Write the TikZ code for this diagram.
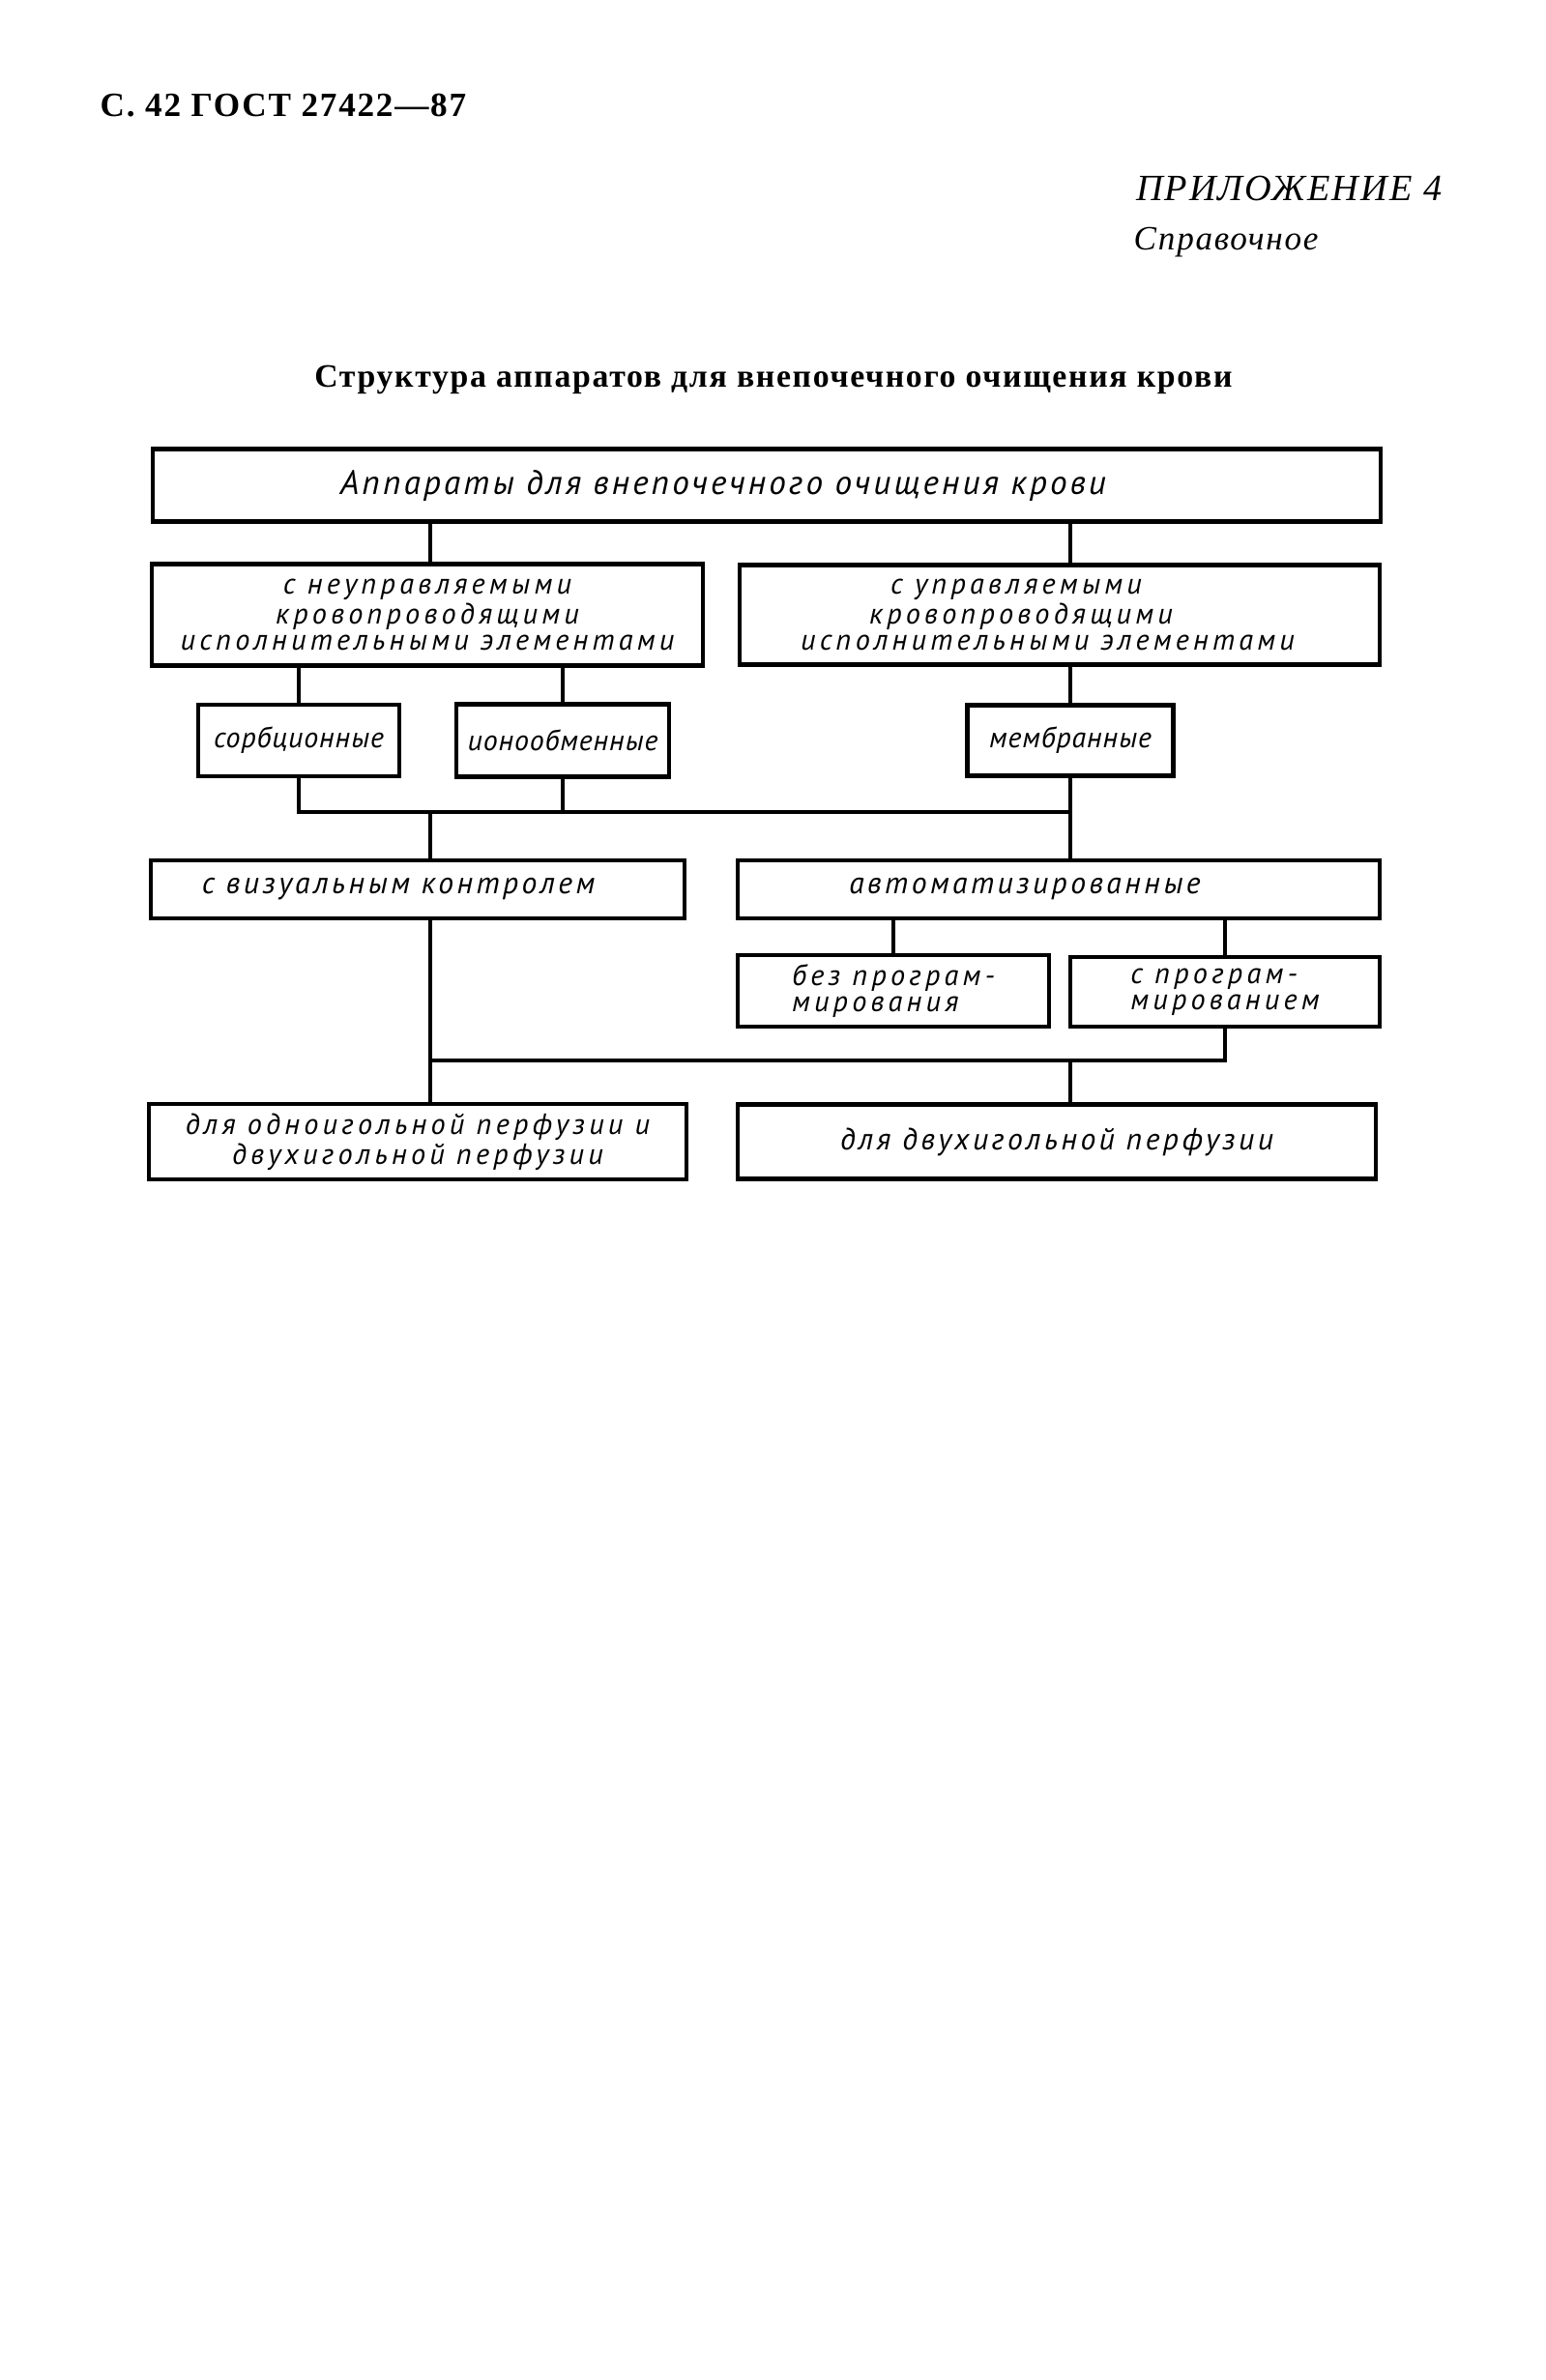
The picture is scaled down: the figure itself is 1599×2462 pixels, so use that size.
\documentclass[tikz,border=0pt]{standalone}
\usepackage{fontspec}
\setmainfont{Liberation Serif}
\newfontfamily\gosttop{PT Sans}[LetterSpace=9]
\newfontfamily\gostone{PT Sans}[LetterSpace=11]
\newfontfamily\gostsmall{PT Sans}[LetterSpace=3]
\newfontfamily\gostmulti{PT Sans}[LetterSpace=14]
\newfontfamily\headfont{Liberation Serif}[LetterSpace=5]
\usetikzlibrary{calc}
\tikzset{
  gost_box/.style = {rectangle, draw=black, line width=1.2pt, inner sep=0pt, align=center},
  box_top/.style = {gost_box, font=\gosttop\itshape\fontsize{10}{10}\selectfont},
  box_one/.style = {gost_box, font=\gostone\itshape\fontsize{9}{9}\selectfont},
  box_small/.style = {gost_box, font=\gostsmall\itshape\fontsize{8.5}{8.5}\selectfont},
  box_multi/.style = {gost_box, font=\gostmulti\itshape\fontsize{8.6}{7.8}\selectfont},
  link/.style = {line width=1.1pt},
  head_txt/.style = {inner sep=0pt, font=\headfont\bfseries\fontsize{10}{10}\selectfont}
}
% blank room after a line, pushes the centred text to the left
\newcommand{\padr}[1]{\rule{#1}{0pt}}

\begin{document}
\begin{tikzpicture}[x=0.01cm, y=-0.01cm]
  \useasboundingbox (0,0) rectangle (1599,2462);

  % page head
  \node [head_txt, anchor=base west] (gost) at (103,120) {С. 42 ГОСТ 27422—87};
  \node [inner sep=0pt, anchor=base east, font=\headfont\itshape\fontsize{10.9}{10.9}\selectfont] (pril) at (1492,207) {ПРИЛОЖЕНИЕ 4};
  \node [inner sep=0pt, anchor=base west, font=\headfont\itshape\fontsize{10}{10}\selectfont] (sprav) at (1172,258) {Справочное};
  \node [head_txt, anchor=base, font=\headfont\bfseries\fontsize{9.6}{9.6}\selectfont] (title) at (800,400) {Структура аппаратов для внепочечного очищения крови};

  % boxes
  \node [box_top, minimum width=12.70cm, minimum height=0.75cm] (app) at (793,502) {Аппараты для внепочечного очищения крови\padr{0.9cm}};
  \node [box_multi, minimum width=5.69cm, minimum height=1.05cm] (neupr) at (442,636) {с неуправляемыми\\кровопроводящими\\исполнительными элементами};
  \node [box_multi, minimum width=6.62cm, minimum height=1.03cm] (upr) at (1096,636) {с управляемыми\padr{0.9cm}\\кровопроводящими\padr{0.8cm}\\исполнительными элементами\padr{0.25cm}};
  \node [box_small, minimum width=2.08cm, minimum height=0.74cm] (sorb) at (309,766) {сорбционные};
  \node [box_small, minimum width=2.20cm, minimum height=0.75cm] (ion) at (582,766) {ионообменные};
  \node [box_small, minimum width=2.13cm, minimum height=0.73cm] (memb) at (1107,766) {мембранные};
  \node [box_one, minimum width=5.51cm, minimum height=0.60cm] (viz) at (432,920) {с визуальным контролем\padr{0.4cm}};
  \node [box_one, minimum width=6.64cm, minimum height=0.60cm] (avto) at (1095,920) {автоматизированные\padr{0.7cm}};
  \node [box_multi, align=left, minimum width=3.22cm, minimum height=0.74cm] (bezpr) at (924,1025) {без програм-\\мирования};
  \node [box_multi, align=left, minimum width=3.20cm, minimum height=0.72cm] (spr) at (1267,1026) {с програм-\\мированием};
  \node [box_multi, minimum width=5.55cm, minimum height=0.78cm] (odno) at (432,1181) {для одноигольной перфузии и\\двухигольной перфузии};
  \node [box_one, minimum width=6.60cm, minimum height=0.77cm] (dvuh) at (1093,1181) {для двухигольной перфузии};

  % buses and trunks
  \coordinate (bus1) at (0,840);
  \coordinate (bus2) at (0,1097);
  \coordinate (xl) at (445,0);
  \coordinate (xr) at (1107,0);

  \draw [link] (app.south -| xl) -- (neupr.north -| xl);
  \draw [link] (app.south -| xr) -- (upr.north -| xr);
  \draw [link] (sorb.north) -- (sorb.north |- neupr.south);
  \draw [link] (ion.north) -- (ion.north |- neupr.south);
  \draw [link] (memb.north) -- (memb.north |- upr.south);
  \draw [link] (sorb.south) -- (sorb.south |- bus1) -- (memb.south |- bus1) -- (memb.south);
  \draw [link] (ion.south) -- (ion.south |- bus1);
  \draw [link] (xl |- bus1) -- (xl |- viz.north);
  \draw [link] (xr |- bus1) -- (xr |- avto.north);
  \draw [link] (bezpr.north) -- (bezpr.north |- avto.south);
  \draw [link] (spr.north) -- (spr.north |- avto.south);
  \draw [link] (xl |- viz.south) -- (xl |- odno.north);
  \draw [link] (xl |- bus2) -- (spr.south |- bus2) -- (spr.south);
  \draw [link] (xr |- bus2) -- (xr |- dvuh.north);
\end{tikzpicture}
\end{document}
